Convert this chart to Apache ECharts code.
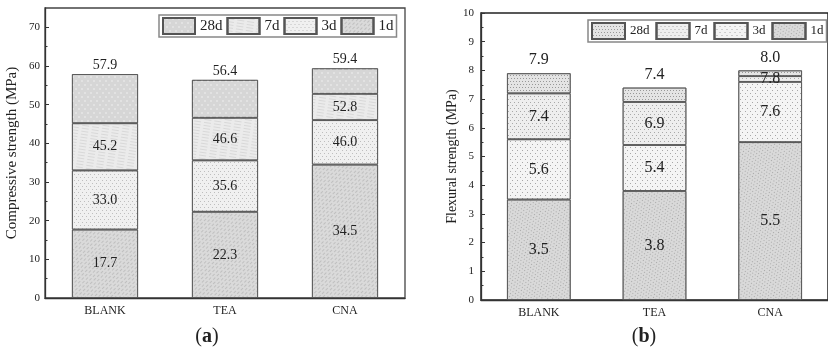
<!DOCTYPE html>
<html>
<head>
<meta charset="utf-8">
<script src="https://cdn.jsdelivr.net/npm/echarts@6/dist/echarts.min.js"></script>
<style>html,body{margin:0;padding:0;background:#fff}#c{width:828px;height:350px}</style>
</head>
<body>
<div id="c"></div>
<script>
// ---------- data ----------
const categories = ['BLANK', 'TEA', 'CNA'];
const ages = ['1d', '3d', '7d', '28d'];
// (a) compressive strength, cumulative values (MPa)
const comp1d = [17.7, 22.3, 34.5];
const comp3d = [33.0, 35.6, 46.0];
const comp7d = [45.2, 46.6, 52.8];
const comp28d = [57.9, 56.4, 59.4];
// (b) flexural strength, cumulative drawn heights (MPa)
const flex1d = [3.5, 3.8, 5.5];
const flex3d = [5.6, 5.4, 7.6];
const flex7d = [7.2, 6.9, 7.8];
const flex28d = [7.9, 7.4, 8.0];
// (b) printed label texts
const flexLbl1d = ['3.5', '3.8', '5.5'];
const flexLbl3d = ['5.6', '5.4', '7.6'];
const flexLbl7d = ['7.4', '6.9', '7.8'];
const flexLbl28d = ['7.9', '7.4', '8.0'];
// tick labels
const compTicks = [0, 10, 20, 30, 40, 50, 60, 70];
const compMinorTicks = [5, 15, 25, 35, 45, 55, 65];
const flexTicks = [0, 1, 2, 3, 4, 5, 6, 7, 8, 9, 10];

// ---------- helpers ----------
const FONT = '"Liberation Serif", "Times New Roman", serif';
function segs(levels) {
  return levels.map((arr, k) => arr.map((v, i) => +(v - (k ? levels[k - 1][i] : 0)).toFixed(3)));
}
const compLevels = [comp1d, comp3d, comp7d, comp28d];
const flexLevels = [flex1d, flex3d, flex7d, flex28d];
const compSegs = segs(compLevels);
const flexSegs = segs(flexLevels);
const compLabels = compLevels.map(a => a.map(v => v.toFixed(1)));
const flexLabels = [flexLbl1d, flexLbl3d, flexLbl7d, flexLbl28d];

const styleA = [
  { color: '#dadada', decal: { symbol: 'rect', symbolSize: 1, color: 'rgba(165,165,165,0.5)', dashArrayX: [[3, 2], [1, 2, 2, 0]], dashArrayY: [1, 1.5], rotation: -Math.PI / 4 } },
  { color: '#f0f0f0', decal: { symbol: 'rect', symbolSize: 1, color: 'rgba(140,140,140,0.5)', dashArrayX: [[1, 3], [0, 2, 1, 1]], dashArrayY: [1, 1.5] } },
  { color: '#ebebeb', decal: { symbol: 'rect', symbolSize: 1, color: 'rgba(200,200,200,0.55)', dashArrayX: [[7, 3]], dashArrayY: [1, 2], rotation: 0.15 } },
  { color: '#d6d6d6', decal: { symbol: 'circle', symbolSize: 0.8, color: 'rgba(245,245,245,0.9)', dashArrayX: [[2, 4], [0, 3, 2, 1]], dashArrayY: [2, 2] } }
];
const styleB = [
  { color: '#d9d9d9', decal: { symbol: 'rect', symbolSize: 1, color: 'rgba(110,110,110,0.45)', dashArrayX: [[1, 2], [0, 1, 1, 1]], dashArrayY: [1, 1.5], rotation: Math.PI / 5 } },
  { color: '#f4f4f4', decal: { symbol: 'rect', symbolSize: 1, color: 'rgba(90,90,90,0.5)', dashArrayX: [[1, 4], [0, 2, 1, 2]], dashArrayY: [1, 2] } },
  { color: '#eeeeee', decal: { symbol: 'rect', symbolSize: 1, color: 'rgba(100,100,100,0.5)', dashArrayX: [[1, 3], [0, 2, 1, 1]], dashArrayY: [1, 1.5] } },
  { color: '#e4e4e4', decal: { symbol: 'rect', symbolSize: 1, color: 'rgba(90,90,90,0.55)', dashArrayX: [[1, 2], [0, 1, 1, 1]], dashArrayY: [1, 1.2] } }
];

function buildSeries(prefix, segData, labels, styles, axisIdx, lblSize, topDist) {
  return ages.map((age, k) => ({
    name: prefix + age,
    type: 'bar',
    stack: prefix,
    xAxisIndex: axisIdx,
    yAxisIndex: axisIdx === 0 ? 0 : 2,
    barWidth: '55%',
    data: segData[k],
    itemStyle: { color: styles[k].color, decal: styles[k].decal, borderColor: '#555', borderWidth: 0.8 },
    emphasis: { disabled: true },
    label: {
      show: true,
      position: k === 3 ? 'top' : 'inside',
      distance: k === 3 ? topDist : 0,
      fontFamily: FONT,
      fontSize: lblSize,
      color: '#222',
      formatter: p => labels[k][p.dataIndex]
    }
  }));
}

const chart = echarts.init(document.getElementById('c'), null, { renderer: 'canvas' });
const legendOrder = ['28d', '7d', '3d', '1d'];
const axisLineStyle = { color: '#333', width: 1.3 };

chart.setOption({
  animation: false,
  grid: [
    { left: 45, top: 8, width: 360, bottom: 52, show: true, borderColor: '#444', borderWidth: 1.3 },
    { left: 481, top: 13, width: 358, bottom: 50, show: true, borderColor: '#222', borderWidth: 1.5 }
  ],
  legend: [
    {
      data: legendOrder.map(n => 'a' + n), formatter: n => n.slice(1), icon: 'rect',
      left: 159, top: 15, orient: 'horizontal', itemWidth: 32, itemHeight: 16, itemGap: 4,
      padding: [2, 3], borderColor: '#888', borderWidth: 1.5, backgroundColor: '#fff',
      textStyle: { fontFamily: FONT, fontSize: 15, color: '#222' }, selectedMode: false
    },
    {
      data: legendOrder.map(n => 'b' + n), formatter: n => n.slice(1), icon: 'rect',
      left: 588, top: 20, orient: 'horizontal', itemWidth: 33, itemHeight: 16, itemGap: 6,
      padding: [2, 3], borderColor: '#888', borderWidth: 1.5, backgroundColor: '#fff',
      textStyle: { fontFamily: FONT, fontSize: 13, color: '#222' }, selectedMode: false
    }
  ],
  xAxis: [
    {
      type: 'category', gridIndex: 0, data: categories,
      axisLine: { lineStyle: axisLineStyle }, axisTick: { show: false },
      axisLabel: { fontFamily: FONT, fontSize: 12, color: '#222', margin: 7 }
    },
    {
      type: 'category', gridIndex: 1, data: categories,
      axisLine: { lineStyle: axisLineStyle }, axisTick: { show: false },
      axisLabel: { fontFamily: FONT, fontSize: 12, color: '#222', margin: 7 }
    }
  ],
  yAxis: [
    {
      type: 'value', gridIndex: 0, min: 0, max: 75, interval: 10,
      name: 'Compressive strength (MPa)', nameLocation: 'middle', nameGap: 25,
      nameTextStyle: { fontFamily: FONT, fontSize: 15, color: '#222' },
      axisLine: { show: true, lineStyle: axisLineStyle },
      axisTick: { show: true, inside: true, length: 4, lineStyle: { color: '#333' }, customValues: compTicks },
      axisLabel: { fontFamily: FONT, fontSize: 11, color: '#222', margin: 5, customValues: compTicks },
      splitLine: { show: false }
    },
    {
      type: 'value', gridIndex: 0, min: 0, max: 75, position: 'left',
      axisLine: { show: false },
      axisTick: { show: true, inside: true, length: 2.5, lineStyle: { color: '#333' }, customValues: compMinorTicks },
      axisLabel: { show: false }, splitLine: { show: false }
    },
    {
      type: 'value', gridIndex: 1, min: 0, max: 10, interval: 1,
      name: 'Flexural strength (MPa)', nameLocation: 'middle', nameGap: 21,
      nameTextStyle: { fontFamily: FONT, fontSize: 14, color: '#222' },
      axisLine: { show: true, lineStyle: axisLineStyle },
      axisTick: { show: true, inside: true, length: 4, lineStyle: { color: '#333' } },
      minorTick: { show: true, splitNumber: 2, length: 2.5, lineStyle: { color: '#333' } },
      axisLabel: { fontFamily: FONT, fontSize: 11, color: '#222', margin: 7, customValues: flexTicks },
      splitLine: { show: false }
    }
  ],
  graphic: [
    {
      type: 'text', x: 207, y: 337, style: {
        text: '{p|(}{b|a}{p|)}', align: 'center', verticalAlign: 'middle',
        rich: { p: { fontFamily: FONT, fontSize: 20, fill: '#222' }, b: { fontFamily: FONT, fontSize: 20, fontWeight: 'bold', fill: '#222' } }
      }
    },
    {
      type: 'text', x: 644, y: 337, style: {
        text: '{p|(}{b|b}{p|)}', align: 'center', verticalAlign: 'middle',
        rich: { p: { fontFamily: FONT, fontSize: 20, fill: '#222' }, b: { fontFamily: FONT, fontSize: 20, fontWeight: 'bold', fill: '#222' } }
      }
    }
  ],
  series: [
    ...buildSeries('a', compSegs, compLabels, styleA, 0, 14, 2),
    ...buildSeries('b', flexSegs, flexLabels, styleB, 1, 16, 5)
  ]
});
</script>
</body>
</html>
